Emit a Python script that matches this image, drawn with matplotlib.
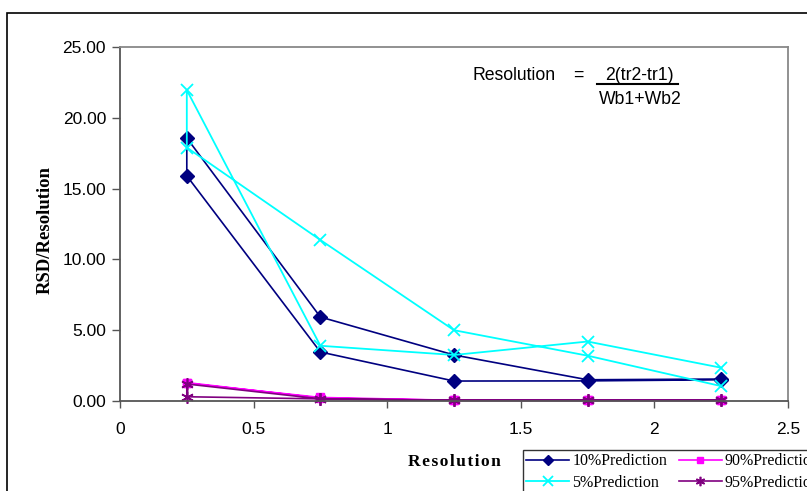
import matplotlib.pyplot as plt
from matplotlib.patches import Rectangle
from matplotlib.lines import Line2D

# each series is one loop: 2.25 -> 0.25 (upper branch), then 0.25 -> 2.25 (lower branch)
x = [2.25, 1.75, 1.25, 0.75, 0.25, 0.25, 0.75, 1.25, 1.75, 2.25]
p10 = [1.55, 1.50, 3.25, 5.93, 18.57, 15.90, 3.46, 1.41, 1.42, 1.50]
p90 = [0.05, 0.05, 0.05, 0.20, 1.30, 1.25, 0.25, 0.05, 0.05, 0.05]
p5 = [2.35, 4.20, 3.25, 3.90, 21.96, 17.90, 11.37, 5.00, 3.20, 1.05]
p95 = [0.05, 0.05, 0.05, 0.15, 1.20, 0.30, 0.15, 0.05, 0.05, 0.05]
labels = ['10%Prediction', '90%Prediction', '5%Prediction', '95%Prediction']

fig = plt.figure(figsize=(8.07, 4.91), dpi=100)
W, H = 807, 491

# outer chart border (cut off by the page on the right and bottom)
fig.patches.append(Rectangle((7/W, -0.1), 1.1, 1 - 13/H + 0.1, transform=fig.transFigure,
                             fill=False, edgecolor='black', linewidth=1.2))

ax = fig.add_axes([120/W, 1 - 401/H, 668/W, 354/H])

l10, = ax.plot(x, p10, color='#000080', marker='D', markersize=7, linewidth=1.2, clip_on=False)
l90, = ax.plot(x, p90, color='#FF00FF', marker='s', markersize=6, linewidth=1.2, clip_on=False)
l5, = ax.plot(x, p5, color='#00FFFF', marker='x', markersize=9, markeredgewidth=1.3, linewidth=1.3,
              clip_on=False)
l95, = ax.plot(x, p95, color='#800080', marker=(6, 2, 0), markersize=9, markeredgewidth=1.2,
               linewidth=1.2, clip_on=False)

ax.set_xlim(0, 2.5)
ax.set_ylim(0, 25)
ax.set_xticks([0, 0.5, 1, 1.5, 2, 2.5])
ax.set_xticklabels(['0', '0.5', '1', '1.5', '2', '2.5'])
ax.set_yticks([0, 5, 10, 15, 20, 25])
ax.set_yticklabels(['%.2f' % v for v in [0, 5, 10, 15, 20, 25]])
for lab in ax.get_xticklabels() + ax.get_yticklabels():
    lab.set_fontfamily('Liberation Sans')
    lab.set_fontsize(12.5)
ax.tick_params(axis='y', direction='out', length=6, width=1, color='#555555', pad=4)
ax.tick_params(axis='x', direction='out', length=5, width=1, color='#555555', pad=10)

for side in ['left', 'bottom']:
    ax.spines[side].set_color('#555555')
    ax.spines[side].set_linewidth(1.3)
for side in ['top', 'right']:
    ax.spines[side].set_color('#888888')
    ax.spines[side].set_linewidth(1.3)

fig.text(45/W, 1 - 230/H, 'RSD/Resolution', fontfamily='Liberation Serif', fontweight='bold',
         fontsize=13.5, rotation=90, ha='center', va='center')
fig.text(454/W, 1 - 462/H, '\u200a'.join('Resolution'), fontfamily=['Liberation Serif', 'DejaVu Serif'],
         fontweight='bold', fontsize=12.5, ha='center', va='center')

# formula
fs = 12.7
fig.text(473/W, 1 - 75/H, 'Resolution', fontfamily='Liberation Sans', fontsize=fs, va='center')
fig.text(578/W, 1 - 75/H, '=', fontfamily='Liberation Sans', fontsize=fs, va='center', ha='center')
fig.text(639/W, 1 - 75/H, '2(tr2-tr1)', fontfamily='Liberation Sans', fontsize=fs, va='center', ha='center')
fig.lines.append(Line2D([597/W, 678/W], [1 - 84/H, 1 - 84/H], transform=fig.transFigure,
                        color='black', linewidth=1.5))
fig.text(640/W, 1 - 99/H, 'Wb1+Wb2', fontfamily='Liberation Sans', fontsize=fs, va='center', ha='center')

# legend fills column-wise: 10% / 5% in the first column, 90% / 95% in the second
leg = fig.legend([l10, l5, l90, l95], [labels[0], labels[2], labels[1], labels[3]],
                 loc='upper left', bbox_to_anchor=(523/W, 1 - 450/H), ncol=2, frameon=True,
                 prop={'family': 'Liberation Serif', 'size': 11.5}, fancybox=False, edgecolor='black',
                 handlelength=2.7, handletextpad=0.2, columnspacing=0.7, borderpad=0.2,
                 labelspacing=0.35, borderaxespad=0, markerscale=0.75)
leg.get_frame().set_linewidth(1.0)

fig.savefig('out.png', dpi=100)
